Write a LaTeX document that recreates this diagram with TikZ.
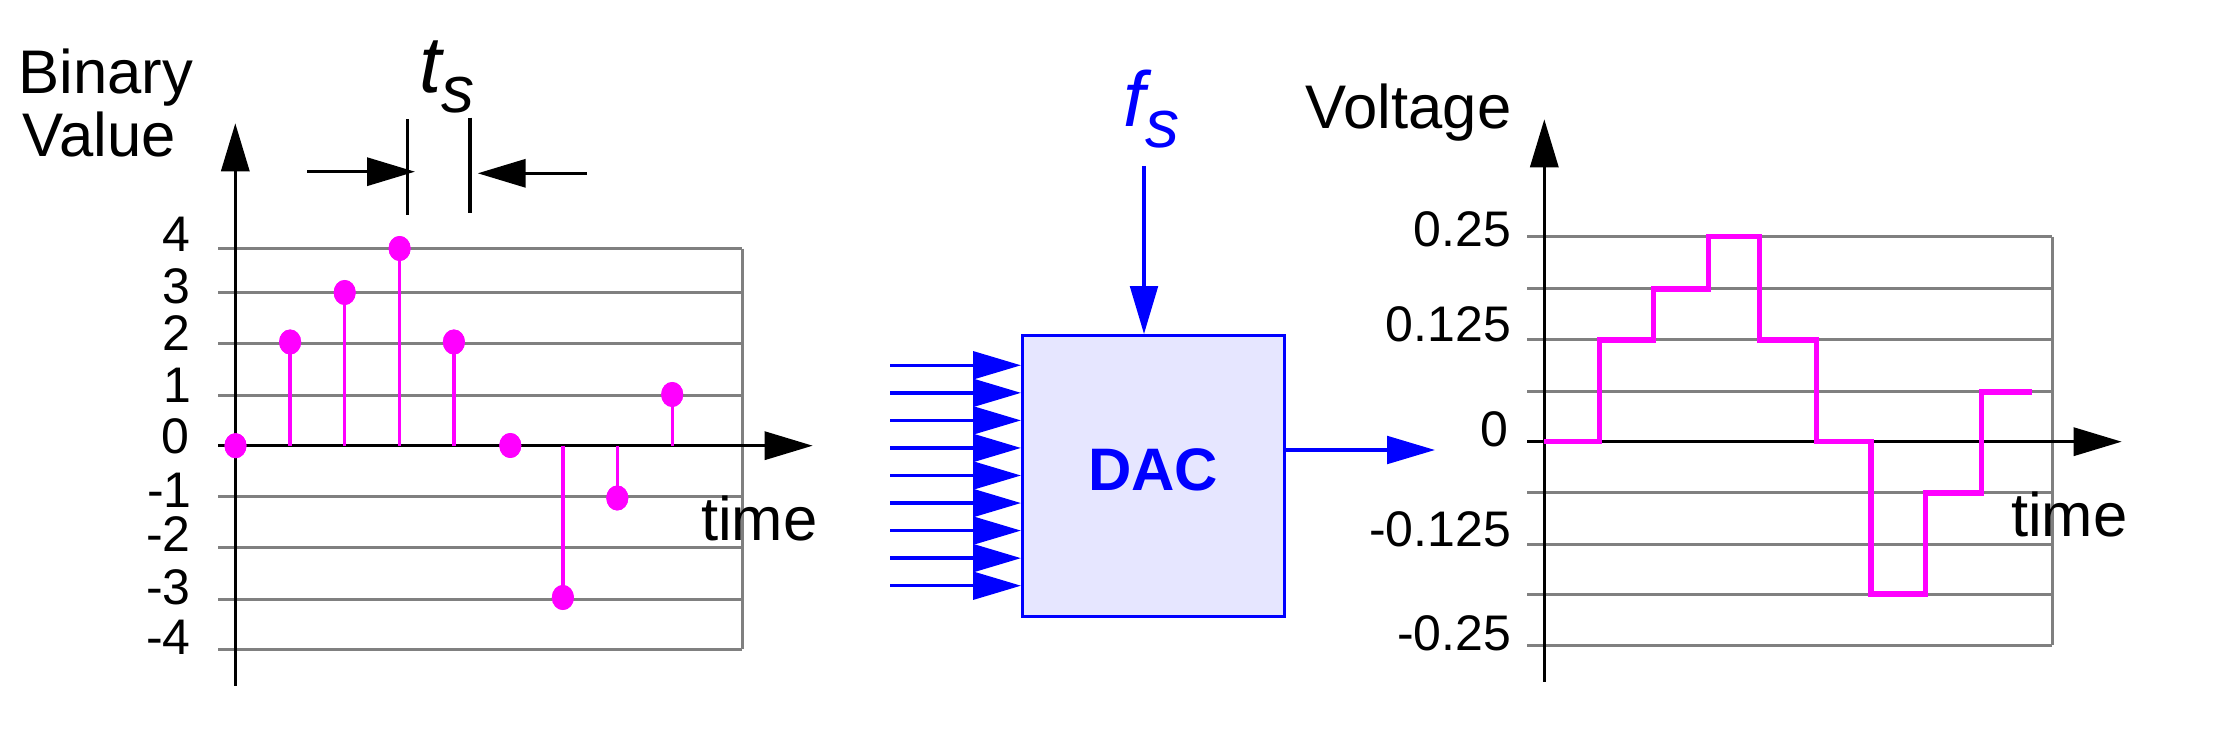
\documentclass[tikz,border=0pt]{standalone}
\usepackage{fontspec}
\setmainfont{Liberation Sans}
\usetikzlibrary{arrows.meta,shapes.geometric}
\definecolor{gridgray}{RGB}{128,128,128}
\definecolor{mag}{RGB}{255,0,255}
\definecolor{dblue}{RGB}{0,0,255}
\definecolor{dacfill}{RGB}{230,230,255}
\begin{document}
\begin{tikzpicture}[x=0.5pt,y=-0.5pt,
  gridl/.style={draw=gridgray, line width=1.5pt},
  axisarr/.style={draw=black, line width=1.65pt, -{Triangle[length=24pt,width=14pt]}},
  plainline/.style={draw=black, line width=1.65pt},
  stem/.style={draw=mag, line width=1.65pt},
  sdot/.style={ellipse, fill=mag, inner sep=0pt, minimum width=11pt, minimum height=12.5pt},
  steps/.style={draw=mag, line width=2.7pt, line join=miter},
  blarr/.style={draw=dblue, line width=1.75pt, -{Triangle[length=24pt,width=13.8pt]}},
  dacbox/.style={draw=dblue, fill=dacfill, line width=1.65pt, minimum width=130.8pt, minimum height=140.5pt, inner sep=0pt},
  bigtxt/.style={font=\fontsize{30.8pt}{36pt}\selectfont, inner sep=0pt, anchor=base west},
  ticklbl/.style={font=\fontsize{25pt}{30pt}\selectfont, inner sep=0pt, anchor=east},
]
\useasboundingbox (0,0) rectangle (2228,732);

% ---------------- left chart ----------------
\foreach \yy in {248.7,292.7,343.7,396,497,547.7,599,649}
  \draw[gridl] (218,\yy) -- (742.3,\yy);
\draw[gridl] (742.3,248.7) -- (742.3,649);

\coordinate (Ly0) at (235.3,685.7);
\coordinate (Ly1) at (235.3,123.3);
\coordinate (Lx0) at (218,445.7);
\coordinate (Lx1) at (812.7,445.7);
\draw[axisarr] (Ly0) -- (Ly1);
\draw[axisarr] (Lx0) -- (Lx1);

\foreach \xx/\yy [count=\i] in {235.5/445.7, 290.1/342, 344.7/292.5, 399.6/248.5, 453.9/342, 510.3/445.5, 562.9/597.5, 617.3/498, 672.2/394.5} {
  \node[sdot] (dot\i) at (\xx,\yy) {};
  \coordinate (base\i) at (\xx,445.7);
  \draw[stem] (base\i) -- (dot\i.center);
  \node[sdot] at (dot\i.center) {};
}

\node[ticklbl] (lt4) at (191,234.5) {4};
\node[ticklbl] (lt3) at (191,286) {3};
\node[ticklbl] (lt2) at (191,333) {2};
\node[ticklbl] (lt1) at (192,385.5) {1};
\node[ticklbl] (lt0) at (190,436.7) {0};
\node[ticklbl] (ltm1) at (192,490) {-1};
\node[ticklbl] (ltm2) at (191,534) {-2};
\node[ticklbl] (ltm3) at (191,587.5) {-3};
\node[ticklbl] (ltm4) at (191,637.5) {-4};

\node[bigtxt] (bin1) at (18.2,93.3) {Binary};
\node[bigtxt] (bin2) at (22.4,156.7) {Value};
\node[bigtxt] (timeL) at (700.7,540.7) {time};

% t_s marker
\node[inner sep=0pt, anchor=base west, font=\itshape] (ts) at (418.7,92.3)
  {{\fontsize{40pt}{40pt}\selectfont t}{\fontsize{33pt}{33pt}\selectfont\raisebox{-10pt}{s}}};
\coordinate (tk1a) at (407.5,119.3);
\coordinate (tk1b) at (407.5,215);
\coordinate (tk2a) at (470,117.7);
\coordinate (tk2b) at (470,213.3);
\draw[plainline] (tk1a) -- (tk1b);
\draw[plainline] (tk2a) -- (tk2b);
\coordinate (ar1a) at (307,171.7);
\coordinate (ar1b) at (415,171.7);
\coordinate (ar2a) at (586.7,173.3);
\coordinate (ar2b) at (477.7,173.3);
\draw[axisarr] (ar1a) -- (ar1b);
\draw[axisarr] (ar2a) -- (ar2b);

% ---------------- DAC ----------------
\node[dacbox] (dac) at (1153.5,476.2) {};
\node[inner sep=0pt, text=dblue, font=\bfseries\fontsize{30pt}{30pt}\selectfont] (daclbl) at (1153.3,469.8) {DAC};
\foreach \k in {0,...,8} {
  \coordinate (in\k) at (890,{365.3+27.55*\k});
  \draw[blarr] (in\k) -- (in\k -| dac.west);
}
\node[inner sep=0pt, anchor=base west, text=dblue, font=\itshape] (fs) at (1123,126.7)
  {{\fontsize{39pt}{39pt}\selectfont f}{\fontsize{34pt}{34pt}\selectfont\raisebox{-10.3pt}{s}}};
\coordinate (fstop) at (1144,166);
\draw[blarr] (fstop) -- (fstop |- dac.north);
\coordinate (outtip) at (1435,450);
\draw[blarr] (outtip -| dac.east) -- (outtip);

% ---------------- right chart ----------------
\foreach \yy in {236.7,289,340,392,493,544,594,645}
  \draw[gridl] (1527,\yy) -- (2052.3,\yy);
\draw[gridl] (2052.3,236.7) -- (2052.3,645);

\coordinate (Ry0) at (1544.3,681.7);
\coordinate (Ry1) at (1544.3,119.3);
\coordinate (Rx0) at (1527,441.7);
\coordinate (Rx1) at (2121.7,441.7);
\draw[axisarr] (Ry0) -- (Ry1);
\draw[axisarr] (Rx0) -- (Rx1);

\draw[steps] (1544,441.7) -- (1599.3,441.7) -- (1599.3,340) -- (1653.3,340) -- (1653.3,289)
  -- (1708.7,289) -- (1708.7,236.7) -- (1759.3,236.7) -- (1759.3,340) -- (1816.7,340)
  -- (1816.7,441.7) -- (1871,441.7) -- (1871,594) -- (1925.7,594) -- (1925.7,493)
  -- (1981.7,493) -- (1981.7,392) -- (2031.7,392);

\node[ticklbl] (rt1) at (1511.5,229) {0.25};
\node[ticklbl] (rt2) at (1511.5,324) {0.125};
\node[ticklbl] (rt3) at (1509,429) {0};
\node[ticklbl] (rt4) at (1511.5,529) {-0.125};
\node[ticklbl] (rt5) at (1511.5,633) {-0.25};

\node[bigtxt] (volt) at (1305.5,128.3) {Voltage};
\node[bigtxt] (timeR) at (2010.7,536.7) {time};
\end{tikzpicture}
\end{document}
